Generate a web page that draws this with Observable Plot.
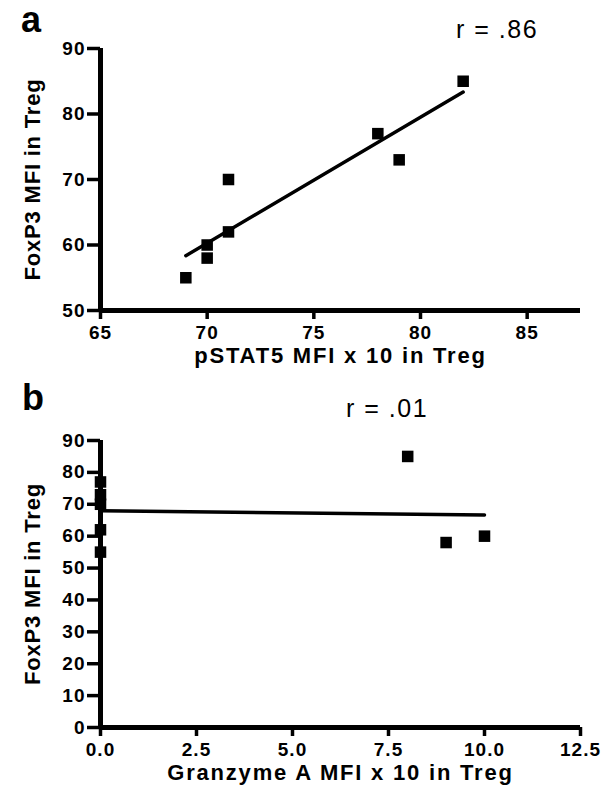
<!DOCTYPE html>
<html><head><meta charset="utf-8">
<script src="https://cdn.jsdelivr.net/npm/d3@7"></script>
<script src="https://cdn.jsdelivr.net/npm/@observablehq/plot@0.6"></script>
<style>
html,body{margin:0;background:#fff;overflow:hidden;}
#wrap{position:relative;width:611px;height:811px;font-family:"Liberation Sans",Arial,sans-serif;color:#000;}
.panel{position:absolute;left:0;}
.panel text{letter-spacing:1px;font-weight:bold;}
.lab{position:absolute;font-weight:bold;font-size:36px;line-height:1;}
.r{position:absolute;font-size:25px;line-height:1;letter-spacing:1.5px;}
</style></head><body><div id="wrap"></div>
<script>
// Panel a
const pstat5 = [69, 70, 70, 71, 71, 78, 79, 82];
const foxp3A = [55, 60, 58, 62, 70, 77, 73, 85];
// Panel b
const granzymeA = [0, 0, 0, 0, 0, 8, 9, 10];
const foxp3B = [55, 62, 70, 73, 77, 85, 58, 60];
// ticks
const xTicksA = [65, 70, 75, 80, 85];
const yTicksA = [50, 60, 70, 80, 90];
const xTicksB = [0, 2.5, 5, 7.5, 10, 12.5];
const yTicksB = [0, 10, 20, 30, 40, 50, 60, 70, 80, 90];
const labels = {a: "a", b: "b", rA: "r = .86", rB: "r = .01",
  xA: "pSTAT5 MFI x 10 in Treg", xB: "Granzyme A MFI x 10 in Treg", y: "FoxP3 MFI in Treg"};

const font = '"Liberation Sans", Arial, sans-serif';
const dataA = pstat5.map((x, i) => ({x, y: foxp3A[i]}));
const dataB = granzymeA.map((x, i) => ({x, y: foxp3B[i]}));

function panel({data, xDomain, yDomain, xTicks, yTicks, xFmt, xLabel, height, marginTop, marginBottom}) {
  const svg = Plot.plot({
    width: 611, height, marginLeft: 100, marginRight: 31, marginTop, marginBottom,
    style: {fontFamily: font, fontWeight: "bold", color: "#000", background: "#fff", overflow: "visible"},
    x: {domain: xDomain},
    y: {domain: yDomain},
    marks: [
      Plot.axisX({ticks: xTicks, tickFormat: xFmt, tickSize: 9, tickPadding: 6, strokeWidth: 3.5, fontSize: 19, fontWeight: "bold", label: null}),
      Plot.axisY({ticks: yTicks, tickSize: 13, tickPadding: 2, strokeWidth: 3.5, fontSize: 19, fontWeight: "bold", label: null}),
      Plot.ruleY([yDomain[0]], {strokeWidth: 5, stroke: "#000"}),
      Plot.ruleX([xDomain[0]], {strokeWidth: 5, stroke: "#000"}),
      Plot.linearRegressionY(data, {x: "x", y: "y", stroke: "#000", strokeWidth: 3.5, ci: 0}),
      Plot.dot(data, {x: "x", y: "y", symbol: "square", fill: "#000", r: 6.5}),
      Plot.text([xLabel], {frameAnchor: "bottom", dy: 52, fontSize: 22, fontWeight: "bold", fill: "#000"}),
      Plot.text([labels.y], {frameAnchor: "left", textAnchor: "middle", rotate: -90, dx: -68, fontSize: 22, fontWeight: "bold", fill: "#000"})
    ]
  });
  d3.select(svg).selectAll('g[aria-label="text"] text')
    .style("letter-spacing", function() { return this.textContent === labels.y ? "0.8px" : "1.8px"; });
  return svg;
}

const wrap = document.getElementById("wrap");
const a = panel({data: dataA, xDomain: [65, 87.5], yDomain: [50, 90], xTicks: xTicksA, yTicks: yTicksA,
  xFmt: d3.format("d"), xLabel: labels.xA, height: 395, marginTop: 48, marginBottom: 85});
a.classList.add("panel"); a.style.top = "0px";
wrap.appendChild(a);
const b = panel({data: dataB, xDomain: [0, 12.5], yDomain: [0, 90], xTicks: xTicksB, yTicks: yTicksB,
  xFmt: d3.format(".1f"), xLabel: labels.xB, height: 416, marginTop: 45, marginBottom: 84});
b.classList.add("panel"); b.style.top = "395px";
wrap.appendChild(b);

function addText(cls, text, left, top) {
  const d = document.createElement("div");
  d.className = cls; d.textContent = text;
  d.style.left = left + "px"; d.style.top = top + "px";
  wrap.appendChild(d);
}
addText("lab", labels.a, 21, 1.5);
addText("lab", labels.b, 22, 379.5);
addText("r", labels.rA, 456, 17);
addText("r", labels.rB, 346, 396);
</script>
</body></html>
